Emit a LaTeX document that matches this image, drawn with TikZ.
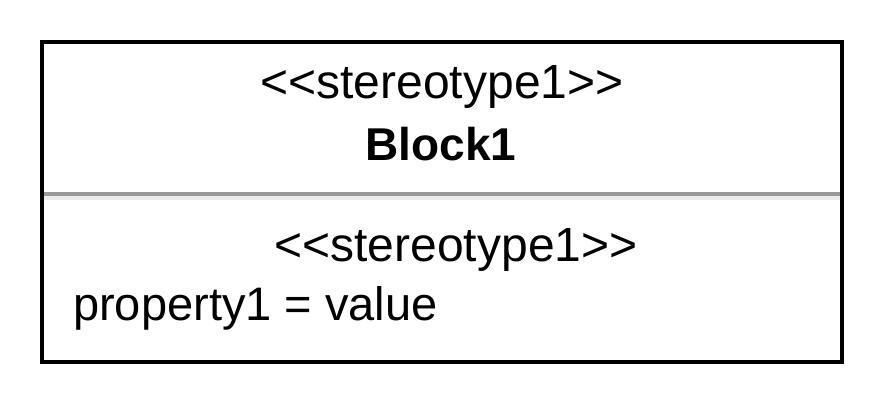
\documentclass[tikz,border=0pt]{standalone}
\usepackage{fontspec}
\newfontfamily\lsans{Liberation Sans}
\definecolor{sepdark}{HTML}{999999}
\definecolor{seplight}{HTML}{EBEBEB}
\begin{document}
\begin{tikzpicture}[x=1pt,y=-1pt,
  lbl/.style={inner sep=0pt,anchor=base,font=\lsans\fontsize{47}{47}\selectfont},
  stereo/.style={lbl,font=\lsans\fontsize{48}{48}\selectfont},
  frame/.style={draw=black,line width=4pt}]
\useasboundingbox (0,0) rectangle (884,404);
\fill[white] (0,0) rectangle (884,404);
\fill[seplight] (44,196) rectangle (840,200);
\fill[sepdark] (42,192) rectangle (840,196);
\draw[frame] (42,42) rectangle (842,362);
\node[stereo] (st1) at (442,99) {<<stereotype1>>};
\node[lbl,font=\lsans\fontsize{46}{46}\selectfont\bfseries] (blk) at (441,160) {Block1};
\node[stereo] (st2) at (456,261) {<<stereotype1>>};
\node[lbl,anchor=base west] (prop) at (73,320) {property1 = value};
\end{tikzpicture}
\end{document}
